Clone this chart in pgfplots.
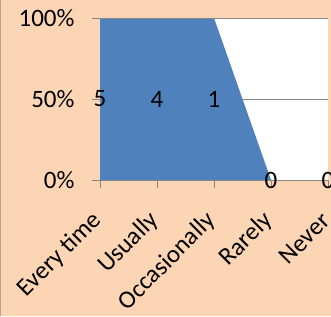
\documentclass[border=0pt]{standalone}
\usepackage{pgfplots}
\pgfplotsset{compat=1.18}
\usepackage{fontspec}
\setmainfont{Carlito}
\definecolor{peach}{HTML}{FCD5B5}
\definecolor{xlblue}{HTML}{4F81BD}
\definecolor{gridgray}{HTML}{868686}
\begin{document}
\begin{tikzpicture}
\path[use as bounding box] (0pt,0pt) rectangle (331pt,316pt);
\fill[peach] (0pt,0pt) rectangle (331pt,316pt);
\draw[gridgray!60!peach, line width=1pt] (0.5pt,0pt) -- (0.5pt,316pt);
\begin{scope}
\clip (0pt,0pt) rectangle (331pt,316pt);
\begin{axis}[
  at={(100pt,136pt)}, anchor=origin,
  width=228pt, height=162pt, scale only axis,
  xmin=0, xmax=4, ymin=0, ymax=100,
  axis background/.style={fill=white},
  xtick={0,1,2,3,4},
  xticklabels={Every time,Usually,Occasionally,Rarely,Never},
  ytick={0,50,100}, yticklabels={0\%,50\%,100\%},
  ymajorgrids, grid style={gridgray, line width=1pt},
  axis x line=bottom, axis y line=left,
  axis line style={gridgray, line width=1pt, -},
  tick style={gridgray, line width=1pt},
  tick align=outside, major tick length=8pt,
  every tick label/.append style={font=\fontsize{25}{30}\selectfont, text=black},
  yticklabel style={anchor=east, xshift=-14pt},
  xticklabel style={xshift=-2pt, yshift=-29pt, rotate=45, anchor=east, inner sep=0pt},
  nodes near coords style={font=\fontsize{25}{30}\selectfont, text=black},
]
\addplot[fill=xlblue, draw=none] coordinates {(0,100) (1,100) (2,100) (3,0) (4,0)} \closedcycle;
\draw[gridgray, line width=1pt] (axis cs:0,100) -- (axis cs:4,100);
\draw[gridgray, line width=1pt] (axis cs:0,0) -- (axis cs:4,0);
\addplot[draw=none, mark=none, nodes near coords, point meta=explicit symbolic,
  nodes near coords align={center}] table[meta=label] {
x y label
0 50 5
1 50 4
2 50 1
3 0 0
4 0 0
};
\end{axis}
\end{scope}
\end{tikzpicture}
\end{document}
